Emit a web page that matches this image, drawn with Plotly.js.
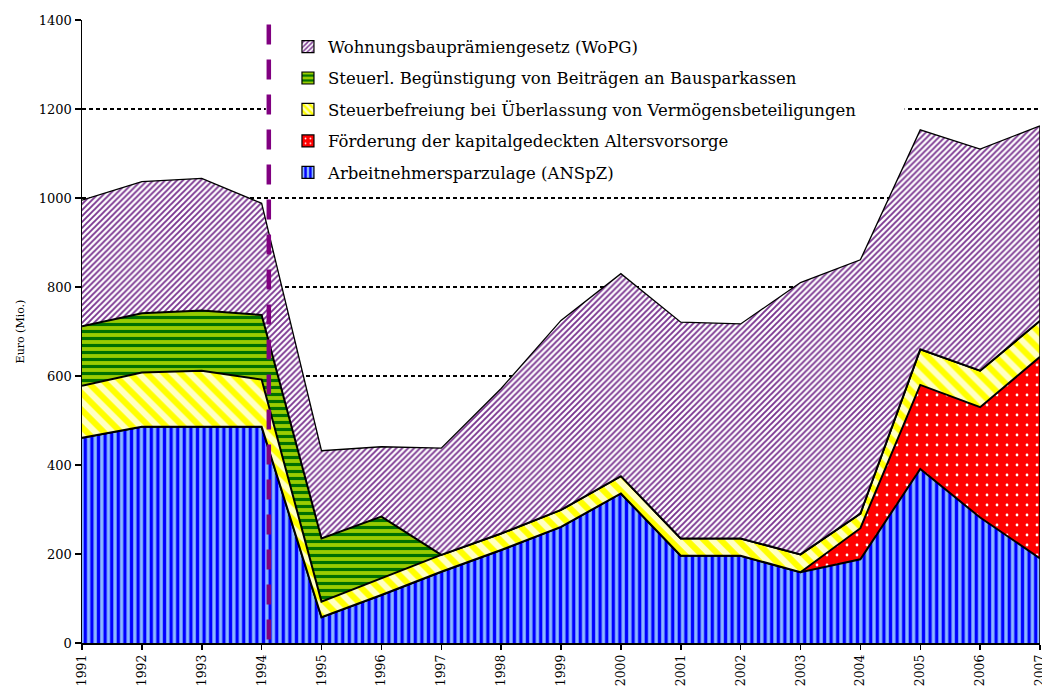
<!DOCTYPE html>
<html><head><meta charset="utf-8">
<script src="https://cdn.plot.ly/plotly-3.0.1.min.js"></script>
<style>html,body{margin:0;padding:0;background:#fff}#chart{width:1042px;height:688px}</style>
</head><body><div id="chart"></div>
<script>
// ---- data (Euro, Mio.) ----
const years = [1991,1992,1993,1994,1995,1996,1997,1998,1999,2000,2001,2002,2003,2004,2005,2006,2007];
const anspz          = [461,486,486,486, 58,108,160,209,261,336,196,196,159,188,391,282,190];
const altersvorsorge = [  0,  0,  0,  0,  0,  0,  0,  0,  0,  0,  0,  0,  0, 70,189,248,453];
const vermoegen      = [117,122,126,106, 35, 37, 38, 37, 38, 39, 39, 39, 40, 33, 80, 82, 81];
const bauspar        = [134,133,135,145,142,139,  0,  0,  0,  0,  0,  0,  0,  0,  0,  0,  0];
const wopg           = [283,296,297,251,197,157,240,326,426,455,486,482,611,570,493,498,438];
const seriesNames = [
  'Arbeitnehmersparzulage (ANSpZ)',
  'Förderung der kapitalgedeckten Altersvorsorge',
  'Steuerbefreiung bei Überlassung von Vermögensbeteiligungen',
  'Steuerl. Begünstigung von Beiträgen an Bausparkassen',
  'Wohnungsbauprämiengesetz (WoPG)'
];
const yTicks = [0,200,400,600,800,1000,1200,1400];
const breakYear = 1994.12;

// ---- styles ----
const FONT = '"DejaVu Serif", serif';
const styles = [
  {shape:'|',  fg:'#0000ff', bg:'#8cb8ff', size:6.6, sol:0.5},
  {shape:'.',  fg:'#ffffff', bg:'#ff0000', size:10,  sol:0.06},
  {shape:'\\', fg:'#ffff00', bg:'#ffffc4', size:12,  sol:0.5},
  {shape:'-',  fg:'#007000', bg:'#99cc00', size:7,   sol:0.45},
  {shape:'/',  fg:'#7a3590', bg:'#ffffff', size:4.2, sol:0.45}
];
const values = [anspz, altersvorsorge, vermoegen, bauspar, wopg];

const traces = [];
values.forEach((v, i) => {
  const s = styles[i];
  traces.push({
    type:'scatter', mode:'lines', x: years, y: v, stackgroup:'one',
    name: seriesNames[i], showlegend:false, hoverinfo:'skip',
    line:{color:'#000', width: i === 4 ? 1.3 : 2},
    fillcolor: s.bg,
    fillpattern:{shape:s.shape, fgcolor:s.fg, bgcolor:s.bg, size:s.size, solidity:s.sol}
  });
});
// closing edge at the last year
const last = years.length - 1;
const totalLast = values.reduce((acc, v) => acc + v[last], 0);
traces.push({type:'scatter', mode:'lines', x:[years[last], years[last]], y:[0, totalLast],
  line:{color:'#000', width:1.5}, showlegend:false, hoverinfo:'skip'});
// legend entries (square symbols), top entry = last series
values.forEach((v, i) => {
  const s = styles[i];
  traces.push({
    type:'bar', x:[null], y:[null], name: seriesNames[i], legendgroup:'g'+i,
    legendrank: values.length - i, showlegend:true,
    marker:{color:s.bg, line:{color:'#000', width:1.2},
      pattern:{shape:s.shape, fgcolor:s.fg, bgcolor:s.bg, size: Math.min(s.size, 6), solidity: Math.max(s.sol, 0.1)}}
  });
});

const layout = {
  width:1042, height:688,
  margin:{l:82, r:2, t:20, b:45},
  paper_bgcolor:'#fff', plot_bgcolor:'#fff',
  font:{family:FONT, color:'#000', size:13},
  showlegend:true,
  xaxis:{type:'linear', range:[years[0], years[last]], tickmode:'array', tickvals:years,
    ticktext:years.map(String), tickangle:-90, ticks:'outside', ticklen:5, tickwidth:1.5,
    tickcolor:'#000', showline:true, linecolor:'#000', linewidth:1.5, showgrid:false,
    zeroline:false, tickfont:{family:FONT, size:12.5}, ticklabeloverflow:'allow', fixedrange:true},
  yaxis:{range:[0,1400], tickmode:'array', tickvals:yTicks, ticks:'outside', ticklen:6,
    tickwidth:1.5, tickcolor:'#000', showline:true, linecolor:'#000', linewidth:1.5,
    showgrid:true, gridcolor:'#000', gridwidth:2, griddash:'4px,3px', zeroline:false,
    tickfont:{family:FONT, size:13},
    title:{text:'Euro (Mio.)', font:{family:FONT, size:11}, standoff:12}, fixedrange:true},
  legend:{x:0.215, y:0.985, xanchor:'left', yanchor:'top', bgcolor:'rgba(0,0,0,0)',
    borderwidth:0, font:{family:FONT, size:16.5, color:'#000'},
    traceorder:'grouped', tracegroupgap:7},
  shapes:[
    {type:'rect', xref:'x', yref:'y', x0:1994.07, x1:2004.74, y0:1020, y1:1375,
      fillcolor:'#fff', line:{width:0}, layer:'between'},
    {type:'line', xref:'x', yref:'y', x0:breakYear, x1:breakYear, y0:1390, y1:0,
      line:{color:'#800080', width:4.5, dash:'20px,15px'}, layer:'above'}
  ]
};

Plotly.newPlot('chart', traces, layout, {displayModeBar:false, staticPlot:true});
</script>
</body></html>
